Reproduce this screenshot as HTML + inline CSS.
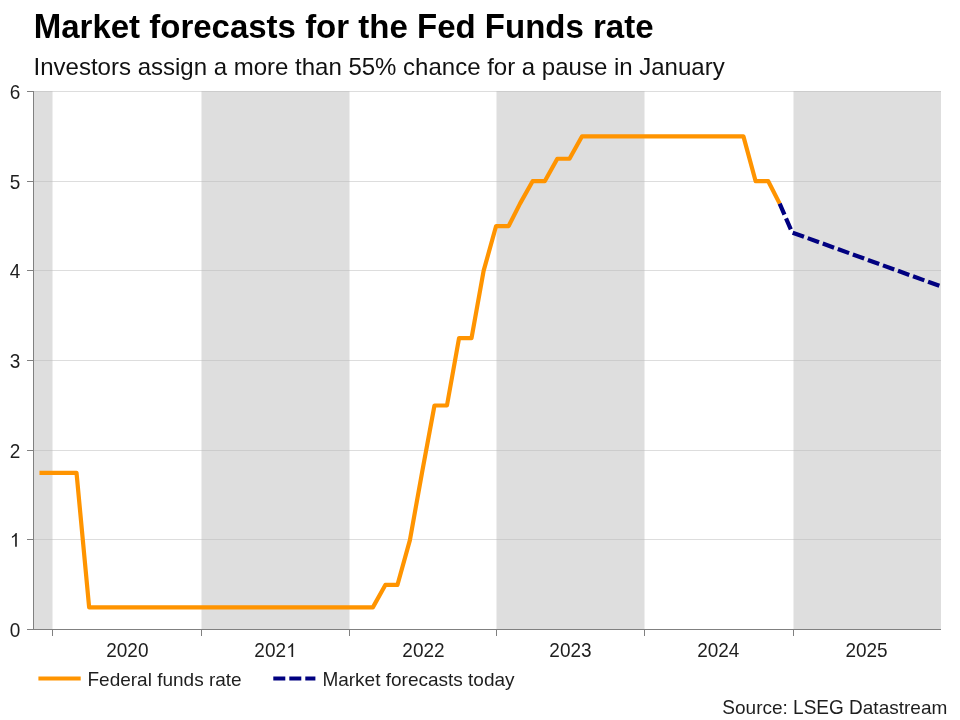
<!DOCTYPE html>
<html><head><meta charset="utf-8"><style>
html,body{margin:0;padding:0;background:#fff;}
#w{width:960px;height:720px;will-change:transform;}
svg{display:block;font-family:"Liberation Sans",sans-serif;}
</style></head><body><div id="w">
<svg width="960" height="720" viewBox="0 0 960 720">
<rect width="960" height="720" fill="#fff"/>
<rect x="34" y="91" width="18.5" height="538.5" fill="#dedede"/>
<rect x="201.5" y="91" width="148.0" height="538.5" fill="#dedede"/>
<rect x="496.5" y="91" width="148.0" height="538.5" fill="#dedede"/>
<rect x="793.5" y="91" width="147.5" height="538.5" fill="#dedede"/>
<line x1="33" y1="91.5" x2="941" y2="91.5" stroke="rgba(185,185,185,0.485)" stroke-width="1"/>
<line x1="33" y1="181.5" x2="941" y2="181.5" stroke="rgba(185,185,185,0.485)" stroke-width="1"/>
<line x1="33" y1="270.5" x2="941" y2="270.5" stroke="rgba(185,185,185,0.485)" stroke-width="1"/>
<line x1="33" y1="360.5" x2="941" y2="360.5" stroke="rgba(185,185,185,0.485)" stroke-width="1"/>
<line x1="33" y1="450.5" x2="941" y2="450.5" stroke="rgba(185,185,185,0.485)" stroke-width="1"/>
<line x1="33" y1="539.5" x2="941" y2="539.5" stroke="rgba(185,185,185,0.485)" stroke-width="1"/>

<g fill="#1e1e1e">
<text transform="translate(33.700,38.00) scale(1,1.04)" font-size="33" font-weight="bold" fill="#000">M</text>
<text transform="translate(61.184,38.00) scale(1,0.985)" font-size="33" font-weight="bold" fill="#000">arket forecasts for the</text>
<text transform="translate(416.981,38.00) scale(1,1.04)" font-size="33" font-weight="bold" fill="#000">F</text>
<text transform="translate(437.137,38.00) scale(1,0.985)" font-size="33" font-weight="bold" fill="#000">ed</text>
<text transform="translate(484.809,38.00) scale(1,1.04)" font-size="33" font-weight="bold" fill="#000">F</text>
<text transform="translate(504.981,38.00) scale(1,0.985)" font-size="33" font-weight="bold" fill="#000">unds rate</text>
<text transform="translate(33.600,75.05) scale(1,1.0)" font-size="24" fill="#111">I</text>
<text transform="translate(40.256,75.05) scale(1,1.0)" font-size="24" fill="#111">nvestors assign a more than</text>
<text transform="translate(348.413,75.05) scale(1,1.0)" font-size="24" fill="#111">55%</text>
<text transform="translate(403.116,75.05) scale(1,1.0)" font-size="24" fill="#111">chance for a pause in</text>
<text transform="translate(639.272,75.05) scale(1,1.0)" font-size="24" fill="#111">J</text>
<text transform="translate(651.272,75.05) scale(1,1.0)" font-size="24" fill="#111">anuary</text>
<text transform="translate(9.722,636.70) scale(1,1.03)" font-size="19">0</text>
<path transform="translate(9.73,546.70) scale(0.009277,-0.009277)" d="M763 0H583V1147Q450 1030 237 935V1100Q400 1180 500 1280Q600 1380 650 1466H763Z"/>
<text transform="translate(9.722,457.70) scale(1,1.03)" font-size="19">2</text>
<text transform="translate(9.722,367.70) scale(1,1.03)" font-size="19">3</text>
<text transform="translate(9.722,277.70) scale(1,1.03)" font-size="19">4</text>
<text transform="translate(9.722,188.70) scale(1,1.03)" font-size="19">5</text>
<text transform="translate(9.722,98.70) scale(1,1.03)" font-size="19">6</text>
<text transform="translate(106.259,656.90) scale(1,1.03)" font-size="19">2020</text>
<text transform="translate(254.366,656.90) scale(1,1.03)" font-size="19">202</text>
<path transform="translate(286.07,656.90) scale(0.009277,-0.009277)" d="M763 0H583V1147Q450 1030 237 935V1100Q400 1180 500 1280Q600 1380 650 1466H763Z"/>
<text transform="translate(402.359,656.90) scale(1,1.03)" font-size="19">2022</text>
<text transform="translate(549.359,656.90) scale(1,1.03)" font-size="19">2023</text>
<text transform="translate(697.159,656.90) scale(1,1.03)" font-size="19">2024</text>
<text transform="translate(845.409,656.90) scale(1,1.03)" font-size="19">2025</text>
<text transform="translate(87.500,685.80) scale(1,1.04)" font-size="19">F</text>
<text transform="translate(99.094,685.80) scale(1,1.0)" font-size="19">ederal funds rate</text>
<text transform="translate(322.400,685.80) scale(1,1.04)" font-size="19">M</text>
<text transform="translate(338.212,685.80) scale(1,1.0)" font-size="19">arket forecasts today</text>
<text transform="translate(722.362,714.20) scale(1,1.04)" font-size="19">S</text>
<text transform="translate(735.034,714.20) scale(1,1.0)" font-size="19">ource:</text>
<text transform="translate(793.112,714.20) scale(1,1.04)" font-size="19">LSEG D</text>
<text transform="translate(862.800,714.20) scale(1,1.0)" font-size="19">atastream</text>
</g>
<g stroke="#808080" stroke-width="1">
<line x1="33.5" y1="91" x2="33.5" y2="630"/>
<line x1="27" y1="629.5" x2="941" y2="629.5"/>
<line x1="27" y1="629.5" x2="33" y2="629.5"/>
<line x1="27" y1="539.5" x2="33" y2="539.5"/>
<line x1="27" y1="450.5" x2="33" y2="450.5"/>
<line x1="27" y1="360.5" x2="33" y2="360.5"/>
<line x1="27" y1="270.5" x2="33" y2="270.5"/>
<line x1="27" y1="181.5" x2="33" y2="181.5"/>
<line x1="27" y1="91.5" x2="33" y2="91.5"/>
<line x1="52.5" y1="629" x2="52.5" y2="636"/>
<line x1="201.5" y1="629" x2="201.5" y2="636"/>
<line x1="349.5" y1="629" x2="349.5" y2="636"/>
<line x1="496.5" y1="629" x2="496.5" y2="636"/>
<line x1="644.5" y1="629" x2="644.5" y2="636"/>
<line x1="793.5" y1="629" x2="793.5" y2="636"/>
</g>
<polyline points="39.47,472.79 52.09,472.79 64.71,472.79 76.52,472.79 89.14,607.37 101.35,607.37 113.97,607.37 126.19,607.37 138.81,607.37 151.43,607.37 163.64,607.37 176.26,607.37 188.47,607.37 201.09,607.37 213.66,607.37 225.02,607.37 237.59,607.37 249.75,607.37 262.32,607.37 274.49,607.37 287.06,607.37 299.63,607.37 311.79,607.37 324.36,607.37 336.52,607.37 349.09,607.37 361.58,607.37 372.86,607.37 385.34,584.94 397.43,584.94 409.91,540.08 421.99,472.79 434.48,405.50 446.96,405.50 459.05,338.20 471.53,338.20 483.61,270.91 496.10,226.05 508.66,226.05 520.02,203.62 532.59,181.19 544.75,181.19 557.32,158.76 569.49,158.76 582.06,136.33 594.63,136.33 606.79,136.33 619.36,136.33 631.52,136.33 644.09,136.33 656.71,136.33 668.52,136.33 681.14,136.33 693.35,136.33 705.97,136.33 718.19,136.33 730.81,136.33 743.43,136.33 755.64,181.19 768.26,181.19 779.67,203.62" fill="none" stroke="#ff9400" stroke-width="4.2" stroke-linejoin="round"/>
<polyline points="779.67,203.62 792.20,232.50 939.60,285.90" fill="none" stroke="#000080" stroke-width="4.2" stroke-dasharray="12,4" stroke-linejoin="round"/>
<line x1="38.4" y1="678.5" x2="80.7" y2="678.5" stroke="#ff9400" stroke-width="4"/>
<line x1="273.3" y1="678.5" x2="315.4" y2="678.5" stroke="#000080" stroke-width="4" stroke-dasharray="12,4"/>
</svg>
</div></body></html>
